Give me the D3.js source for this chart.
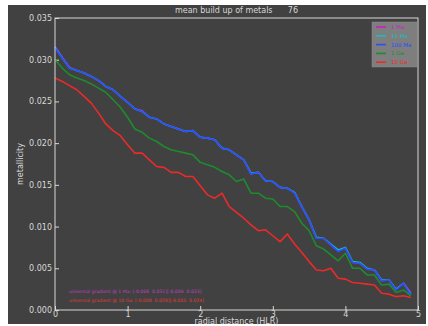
<!DOCTYPE html>
<html>
<head>
<meta charset="utf-8">
<script src="https://cdn.jsdelivr.net/npm/d3@7"></script>
<style>
  html, body { margin: 0; padding: 0; background: #fff; }
  svg { display: block; font-family: "DejaVu Sans", sans-serif; }
</style>
</head>
<body>
<svg id="chart"></svg>
<script>
// radial bins (HLR)
const radius = d3.range(50).map(i => i / 10);

const mag1Ma = [0.0316, 0.0303, 0.0291, 0.0287, 0.0284, 0.0280, 0.0275, 0.0268, 0.0264, 0.0256,
  0.0249, 0.0241, 0.0239, 0.0231, 0.0229, 0.0223, 0.0220, 0.0217, 0.0214, 0.0215,
  0.0207, 0.0206, 0.0204, 0.0194, 0.0192, 0.0186, 0.0180, 0.0163, 0.0165, 0.0155,
  0.0154, 0.0147, 0.0146, 0.0140, 0.0124, 0.0108, 0.0086, 0.0086, 0.0078, 0.0071,
  0.0074, 0.0057, 0.0056, 0.0049, 0.0048, 0.0035, 0.0036, 0.0025, 0.0032, 0.0021];
const mag10Ma = [0.0315, 0.0302, 0.0290, 0.0287, 0.0284, 0.0280, 0.0275, 0.0268, 0.0264, 0.0256,
  0.0249, 0.0241, 0.0238, 0.0231, 0.0229, 0.0223, 0.0220, 0.0217, 0.0214, 0.0215,
  0.0207, 0.0206, 0.0204, 0.0194, 0.0192, 0.0186, 0.0180, 0.0164, 0.0165, 0.0155,
  0.0154, 0.0147, 0.0146, 0.0141, 0.0124, 0.0108, 0.0087, 0.0086, 0.0079, 0.0072,
  0.0075, 0.0058, 0.0057, 0.0050, 0.0048, 0.0036, 0.0036, 0.0025, 0.0032, 0.0019];
const mag100Ma = [0.0314, 0.0302, 0.0290, 0.0287, 0.0284, 0.0280, 0.0275, 0.0268, 0.0264, 0.0256,
  0.0249, 0.0241, 0.0238, 0.0231, 0.0229, 0.0223, 0.0220, 0.0217, 0.0214, 0.0215,
  0.0207, 0.0206, 0.0204, 0.0194, 0.0192, 0.0186, 0.0180, 0.0163, 0.0165, 0.0155,
  0.0154, 0.0147, 0.0146, 0.0140, 0.0124, 0.0108, 0.0086, 0.0086, 0.0078, 0.0070,
  0.0074, 0.0057, 0.0056, 0.0049, 0.0048, 0.0035, 0.0036, 0.0024, 0.0032, 0.0018];
const mag1Ga = [0.0300, 0.0290, 0.0282, 0.0278, 0.0275, 0.0271, 0.0266, 0.0261, 0.0252, 0.0243,
  0.0231, 0.0217, 0.0213, 0.0206, 0.0202, 0.0196, 0.0192, 0.0190, 0.0188, 0.0186,
  0.0177, 0.0174, 0.0171, 0.0166, 0.0162, 0.0154, 0.0157, 0.0140, 0.0140, 0.0134,
  0.0133, 0.0124, 0.0124, 0.0118, 0.0104, 0.0095, 0.0077, 0.0073, 0.0066, 0.0059,
  0.0068, 0.0050, 0.0050, 0.0042, 0.0042, 0.0030, 0.0031, 0.0021, 0.0024, 0.0017];
const mag10Ga = [0.0278, 0.0274, 0.0269, 0.0264, 0.0256, 0.0248, 0.0236, 0.0223, 0.0215, 0.0209,
  0.0198, 0.0188, 0.0188, 0.0180, 0.0172, 0.0171, 0.0165, 0.0165, 0.0160, 0.0160,
  0.0149, 0.0138, 0.0134, 0.0140, 0.0124, 0.0117, 0.0110, 0.0102, 0.0095, 0.0096,
  0.0089, 0.0082, 0.0091, 0.0079, 0.0069, 0.0058, 0.0048, 0.0047, 0.0050, 0.0038,
  0.0037, 0.0033, 0.0032, 0.0031, 0.0030, 0.0020, 0.0019, 0.0016, 0.0017, 0.0015];

const seriesNames = ["1 Ma", "10 Ma", "100 Ma", "1 Ga", "10 Ga"];
const seriesColors = ["#c81ec8", "#1cbcbc", "#2450ff", "#1c8c2c", "#ec2a2a"];
const seriesValues = [mag1Ma, mag10Ma, mag100Ma, mag1Ga, mag10Ga];

const xTicks = [0, 1, 2, 3, 4, 5];
const yTicks = [0, 0.005, 0.010, 0.015, 0.020, 0.025, 0.030, 0.035];

const titleText = "mean build up of metals      76";
const notes = [
  { text: "universal gradient @ 1 Ma: [-0.006  0.031][-0.006  0.033]", color: "#c040c0" },
  { text: "universal gradient @ 10 Ga: [-0.008  0.028][-0.005  0.024]", color: "#e03a3a" }
];

const W = 428, H = 326;
const margin = { top: 18, right: 10, bottom: 16, left: 55 };
const width = W - margin.left - margin.right;
const height = H - margin.top - margin.bottom;

const svg = d3.select("#chart").attr("width", W).attr("height", H);

// dark figure background
svg.append("rect")
  .attr("x", 8).attr("y", 5)
  .attr("width", W - 10).attr("height", H - 7)
  .attr("fill", "#414141");

const g = svg.append("g")
  .attr("transform", "translate(" + margin.left + "," + margin.top + ")");

const x = d3.scaleLinear().domain([0, 5]).range([0, width]);
const y = d3.scaleLinear().domain([0, 0.035]).range([height, 0]);

const axisColor = "#d8d8d8";

const xAxis = g.append("g")
  .attr("transform", "translate(0," + height + ")")
  .call(d3.axisBottom(x).tickValues(xTicks).tickFormat(d3.format("d")).tickSizeInner(-4).tickSizeOuter(0).tickPadding(1));
const yAxis = g.append("g")
  .call(d3.axisLeft(y).tickValues(yTicks).tickFormat(d3.format(".3f")).tickSizeInner(-4).tickSizeOuter(0).tickPadding(3));

[xAxis, yAxis].forEach(a => {
  a.select(".domain").remove();
  a.selectAll("line").attr("stroke", axisColor);
  a.selectAll("text").attr("fill", axisColor).attr("font-size", 8).attr("font-family", "DejaVu Sans");
});

// lines
const line = d3.line()
  .x((d, i) => x(radius[i]))
  .y(d => y(d));

seriesValues.forEach((vals, k) => {
  g.append("path")
    .datum(vals)
    .attr("fill", "none")
    .attr("stroke", seriesColors[k])
    .attr("stroke-width", 1.6)
    .attr("stroke-linejoin", "round")
    .attr("d", line);
});

// frame
g.append("rect")
  .attr("width", width).attr("height", height)
  .attr("fill", "none").attr("stroke", axisColor).attr("stroke-width", 1);

// title
g.append("text")
  .attr("x", width / 2).attr("y", -5)
  .attr("text-anchor", "middle")
  .attr("fill", axisColor).attr("font-size", 8)
  .style("white-space", "pre")
  .text(titleText);

// axis labels
g.append("text")
  .attr("x", width / 2).attr("y", height + 14.3)
  .attr("text-anchor", "middle")
  .attr("fill", axisColor).attr("font-size", 8)
  .text("radial distance (HLR)");

g.append("text")
  .attr("transform", "translate(" + (-32) + "," + (height / 2) + ") rotate(-90)")
  .attr("text-anchor", "middle")
  .attr("fill", axisColor).attr("font-size", 8)
  .text("metallicity");

// annotations
notes.forEach((n, i) => {
  g.append("text")
    .attr("x", 14).attr("y", height - 17 + i * 9)
    .attr("fill", n.color).attr("font-size", 4.6)
    .style("white-space", "pre")
    .text(n.text);
});

// legend
const leg = svg.append("g").attr("transform", "translate(372,22)");
leg.append("rect")
  .attr("width", 45).attr("height", 45)
  .attr("fill", "#7e7e7e").attr("stroke", "#8a8a8a").attr("stroke-width", 0.5);
seriesNames.forEach((name, k) => {
  const yy = 5 + k * 8.8;
  leg.append("line")
    .attr("x1", 4).attr("x2", 14).attr("y1", yy).attr("y2", yy)
    .attr("stroke", seriesColors[k]).attr("stroke-width", 1.6);
  leg.append("text")
    .attr("x", 19).attr("y", yy + 2)
    .attr("fill", seriesColors[k]).attr("font-size", 5.5)
    .text(name);
});
</script>
</body>
</html>
